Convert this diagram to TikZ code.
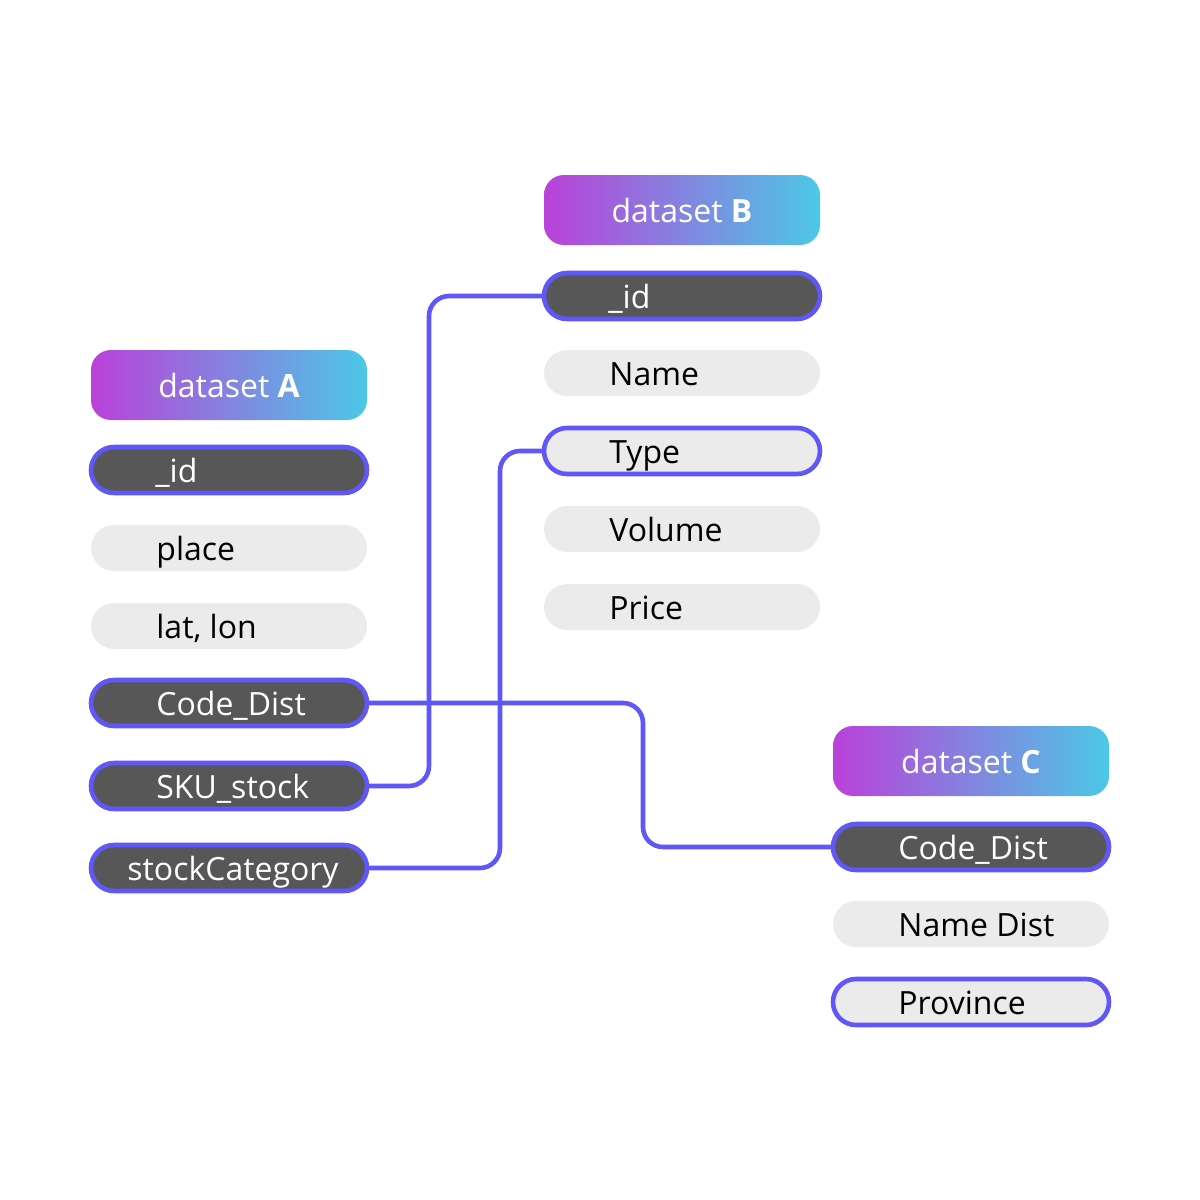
\documentclass[tikz,border=0pt]{standalone}
\usepackage{fontspec}
\setmainfont{Open Sans}
\usetikzlibrary{calc}
\definecolor{lnk}{HTML}{5F57F7}
\definecolor{darkf}{HTML}{575757}
\definecolor{lightf}{HTML}{EBEBEB}
\definecolor{gmag}{HTML}{BA41D9}
\definecolor{gcyan}{HTML}{4CC8E6}
\begin{document}
\begin{tikzpicture}[x=0.5pt,y=-0.5pt,
  txtfont/.style={font=\fontsize{16}{19}\selectfont},
  hdr/.style={rectangle, rounded corners=10pt, minimum width=138pt, minimum height=35pt,
    left color=gmag, right color=gcyan, text=white, txtfont, inner sep=0pt},
  fieldbox/.style={rectangle, rounded corners=11.5pt, minimum width=138pt, minimum height=23pt,
    inner sep=0pt, outer sep=0pt},
  keyd/.style={fieldbox, fill=darkf, draw=lnk, line width=2.3pt},
  keyl/.style={fieldbox, fill=lightf, draw=lnk, line width=2.3pt},
  plain/.style={fieldbox, fill=lightf},
  wtxt/.style={anchor=base west, text=white, txtfont, inner sep=0pt},
  btxt/.style={anchor=base west, text=black, txtfont, inner sep=0pt},
  link/.style={draw=lnk, line width=2.3pt, rounded corners=10pt}]
\useasboundingbox (0,0) rectangle (1200,1200);

% dataset A
\node[hdr] (hA) at (229,385) {dataset \textbf{A}};
\node[keyd] (A1) at (229,470) {};
\node[plain] (A2) at (229,548) {};
\node[plain] (A3) at (229,626) {};
\node[keyd] (A4) at (229,703) {};
\node[keyd] (A5) at (229,786) {};
\node[keyd] (A6) at (229,868) {};
\node[wtxt] (tA1) at ($(A1.west)+(64,12)$) {\_id};
\node[btxt] (tA2) at ($(A2.west)+(65,12)$) {place};
\node[btxt] (tA3) at ($(A3.west)+(65,12)$) {lat, lon};
\node[wtxt] (tA4) at ($(A4.west)+(65,12)$) {Code\_Dist};
\node[wtxt] (tA5) at ($(A5.west)+(65,12)$) {SKU\_stock};
\node[wtxt] (tA6) at ($(A6.west)+(36,12)$) {stockCategory};

% dataset B
\node[hdr] (hB) at (682,210) {dataset \textbf{B}};
\node[keyd] (B1) at (682,296) {};
\node[plain] (B2) at (682,373) {};
\node[keyl] (B3) at (682,451) {};
\node[plain] (B4) at (682,529) {};
\node[plain] (B5) at (682,607) {};
\node[wtxt] (tB1) at ($(B1.west)+(64,12)$) {\_id};
\node[btxt] (tB2) at ($(B2.west)+(65,12)$) {Name};
\node[btxt] (tB3) at ($(B3.west)+(65,12)$) {Type};
\node[btxt] (tB4) at ($(B4.west)+(65,12)$) {Volume};
\node[btxt] (tB5) at ($(B5.west)+(65,12)$) {Price};

% dataset C
\node[hdr] (hC) at (971,761) {dataset \textbf{C}};
\node[keyd] (C1) at (971,847) {};
\node[plain] (C2) at (971,924) {};
\node[keyl] (C3) at (971,1002) {};
\node[wtxt] (tC1) at ($(C1.west)+(65,12)$) {Code\_Dist};
\node[btxt] (tC2) at ($(C2.west)+(65,12)$) {Name Dist};
\node[btxt] (tC3) at ($(C3.west)+(65,12)$) {Province};

% connectors
\coordinate (j1) at (429,0);
\coordinate (j2) at (500,0);
\coordinate (j3) at (643,0);
\draw[link] (A5.east) -| (j1 |- B1.west) -- (B1.west);
\draw[link] (A6.east) -| (j2 |- B3.west) -- (B3.west);
\draw[link] (A4.east) -| (j3 |- C1.west) -- (C1.west);
\end{tikzpicture}
\end{document}
